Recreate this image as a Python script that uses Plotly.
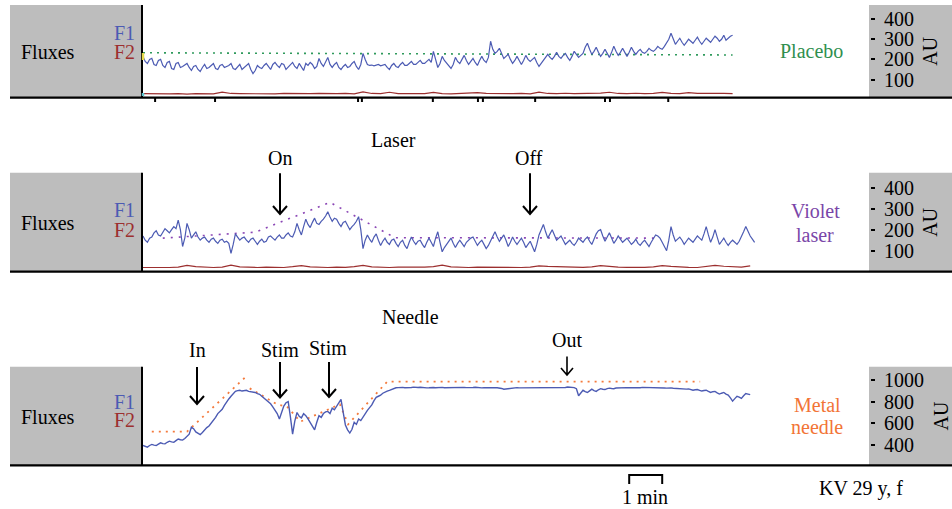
import plotly.graph_objects as go

# ---------------- data (AU values) ----------------
DT = 4       # seconds between F1 samples
DT2 = 16     # seconds between F2 samples

placebo_f1 = [215,190,180,200,205,175,170,195,200,170,160,185,190,155,150,180,185,160,
              165,175,180,160,145,165,170,150,140,160,175,155,160,170,180,155,150,170,
              175,160,165,170,180,155,150,165,175,150,160,170,180,150,130,145,170,160,155,170,
              180,165,150,175,185,170,160,180,175,150,160,175,185,165,155,180,160,145,
              180,170,185,175,155,165,205,180,165,190,210,175,160,175,185,160,150,165,175,160,
              165,180,190,165,150,175,230,200,175,170,172,168,170,175,168,172,175,160,150,170,
              180,165,160,175,185,170,170,180,190,175,175,185,195,180,180,190,200,185,240,200,
              160,180,215,195,180,165,155,175,210,190,180,200,220,195,175,190,205,185,170,195,
              215,195,185,210,290,250,230,240,255,230,205,215,225,200,180,195,215,195,175,195,
              220,200,190,200,210,185,165,180,195,210,225,210,200,215,235,215,205,220,230,210,
              195,215,240,225,210,220,230,260,280,250,225,240,260,235,215,230,250,230,210,235,
              265,240,220,235,255,235,215,235,260,240,225,240,250,235,230,240,255,245,240,250,
              265,255,250,265,285,300,330,300,275,290,305,285,270,285,300,290,280,295,310,290,
              275,290,305,295,285,300,315,305,290,300,320,295,305,315,320]
placebo_f2 = [30,29,31,29,30,28,30,31,29,38,31,30,29,31,30,29,31,30,28,30,
              31,29,30,31,29,39,31,30,37,30,29,31,30,36,30,29,31,30,35,31,
              30,32,30,31,29,38,31,30,32,30,31,29,33,37,31,30,32,30,31,36,
              31,30,35,31,32,30,31,30]
placebo_ref_t = [0, 1072]
placebo_ref = [233, 222]

laser_f1 = [170,150,140,160,165,185,195,175,170,190,205,195,185,200,215,205,246,200,120,160,
            230,200,160,175,190,165,150,160,165,150,140,155,160,145,135,150,155,140,145,135,
            87,130,180,165,150,160,165,150,140,155,160,145,130,145,155,140,145,165,170,160,
            150,165,175,160,160,175,185,170,165,190,230,200,175,215,250,225,210,235,255,230,
            225,240,250,265,285,260,240,255,250,230,215,235,240,220,200,215,225,240,262,200,
            110,150,175,155,140,165,180,150,125,145,160,140,130,150,155,135,120,140,150,125,
            110,140,165,145,130,145,150,130,115,140,160,140,120,160,190,140,95,115,130,145,
            160,135,115,135,150,135,120,140,150,160,165,145,125,140,150,130,110,125,145,170,
            190,165,145,160,175,150,120,140,165,145,130,145,160,140,115,130,145,120,95,130,
            175,200,225,190,160,180,200,175,150,160,170,150,130,140,150,135,125,140,160,150,
            140,155,165,145,130,155,180,195,200,170,145,165,185,160,135,150,170,155,140,150,
            160,145,130,140,155,135,125,140,150,135,120,140,160,175,170,160,140,120,100,150,
            215,175,145,155,165,150,130,145,160,150,140,155,170,160,150,180,215,175,140,165,
            200,165,130,145,160,140,125,140,150,140,130,145,165,190,215,190,170,155,140]
laser_f2 = [20,19,21,20,22,30,24,21,20,22,31,23,21,20,22,21,20,24,29,23,
            21,20,22,21,24,30,23,21,20,22,21,20,22,24,31,23,21,20,22,21,
            20,19,21,20,22,28,25,23,24,22,21,23,29,24,22,21,20,21,23,29,
            25,22,21,20,24,30,26,24,22,28]
laser_ref_t = [36, 204, 340, 458, 935]
laser_ref = [160, 188, 330, 162, 160]

needle_f1 = [395,385,380,395,405,398,395,408,420,412,410,425,435,428,425,440,455,448,445,460,
             480,500,565,550,520,505,495,515,540,560,575,600,620,655,690,710,730,765,800,825,
             850,875,895,902,905,898,900,905,895,892,890,885,875,868,850,832,810,795,780,752,
             720,690,640,710,760,790,800,660,500,620,700,665,650,690,670,640,610,575,540,610,
             670,655,690,705,710,690,740,725,760,790,820,700,585,540,510,545,610,590,640,625,
             660,690,720,745,770,810,840,850,860,878,890,898,905,915,925,928,930,933,932,929,
             928,930,931,934,929,931,933,930,930,927,928,932,931,929,930,933,932,928,929,931,
             931,929,928,931,930,933,932,930,929,927,931,933,930,926,927,930,932,929,928,931,
             930,928,926,922,915,918,922,926,928,931,930,927,927,930,931,928,929,933,932,930,
             930,932,933,930,931,934,934,931,930,932,933,930,931,935,934,931,930,920,855,880,
             905,892,885,900,915,902,895,910,920,915,912,920,925,922,920,926,928,925,925,929,
             930,928,927,931,931,928,929,932,932,929,928,931,930,927,926,929,929,926,925,928,
             927,924,922,918,920,914,912,916,918,910,905,910,912,905,898,903,906,895,885,892,
             895,882,870,878,885,870,860,835,805,828,850,842,830,855,875,870,865]
needle_ref_t = [16, 80, 189, None, 194, 244, 262, 286, 358, 373, 444, 1013]
needle_ref = [523, 523, 1040, None, 923, 775, 754, 615, 775, 591, 985, 985]

tick_p12 = [100, 200, 300, 400]
tick_p3 = [400, 600, 800, 1000]
event_marks = [22, 131, 391, 398, 527, 609, 618, 713, 840, 849, 955]
scale_bar = [884, 944]   # one minute

# ---------------- layout helpers ----------------
W, H = 952, 509
def px(x): return x / W
def py(y): return 1 - y / H

BLUE = '#4c5bb3'
RED = '#9c2f2f'
FONT = 'Liberation Serif'
GRAY = '#bdbdbd'

fig = go.Figure()

def times(vals, dt):
    return [i * dt for i in range(len(vals))]

fig.add_trace(go.Scatter(x=placebo_ref_t, y=placebo_ref, mode='lines', xaxis='x', yaxis='y',
                         line=dict(color='#2f9a5c', width=1.6, dash='2px,5px')))
fig.add_trace(go.Scatter(x=times(placebo_f2, DT2), y=placebo_f2, mode='lines', xaxis='x', yaxis='y',
                         line=dict(color=RED, width=1.2)))
fig.add_trace(go.Scatter(x=times(placebo_f1, DT), y=placebo_f1, mode='lines', xaxis='x', yaxis='y',
                         line=dict(color=BLUE, width=1.2)))

fig.add_trace(go.Scatter(x=laser_ref_t, y=laser_ref, mode='lines', xaxis='x2', yaxis='y2',
                         line=dict(color='#8a45b5', width=1.6, dash='2px,6px')))
fig.add_trace(go.Scatter(x=times(laser_f2, DT2), y=laser_f2, mode='lines', xaxis='x2', yaxis='y2',
                         line=dict(color=RED, width=1.2)))
fig.add_trace(go.Scatter(x=times(laser_f1, DT), y=laser_f1, mode='lines', xaxis='x2', yaxis='y2',
                         line=dict(color=BLUE, width=1.2)))

fig.add_trace(go.Scatter(x=needle_ref_t, y=needle_ref, mode='lines', xaxis='x3', yaxis='y3',
                         connectgaps=False,
                         line=dict(color='#f47a3c', width=1.8, dash='2px,5px')))
fig.add_trace(go.Scatter(x=times(needle_f1, DT), y=needle_f1, mode='lines', xaxis='x3', yaxis='y3',
                         line=dict(color=BLUE, width=1.4)))

XDOM = [143 / W, 869 / W]
XR = [0, 1320]
panels = [  # (top px, bottom px, range, ticks, title standoff)
    (5, 97.7, [10, 470], tick_p12, 10),
    (172.7, 271.7, [0, 471.4], tick_p12, 10),
    (366.7, 465.3, [212, 1123], tick_p3, 13),
]
layout = dict(
    width=W, height=H, margin=dict(l=0, r=0, t=0, b=0),
    template='none', paper_bgcolor='white', plot_bgcolor='rgba(0,0,0,0)',
    showlegend=False, font=dict(family=FONT, size=20, color='black'),
)
for i, (top, bot, rng, tv, so) in enumerate(panels):
    n = '' if i == 0 else str(i + 1)
    layout['xaxis' + n] = dict(domain=XDOM, range=XR, visible=False, anchor='y' + n,
                               automargin=False, fixedrange=True)
    layout['yaxis' + n] = dict(domain=[py(bot), py(top)], range=rng, side='right',
                               anchor='free', position=870 / W, automargin=False,
                               showgrid=False, zeroline=False, showline=False,
                               ticks='outside', ticklen=4, tickwidth=2, tickcolor='black',
                               tickvals=tv, ticktext=[str(v) for v in tv],
                               ticklabelstandoff=5,
                               tickfont=dict(family=FONT, size=20, color='black'),
                               title=dict(text='AU', standoff=so,
                                          font=dict(family=FONT, size=20, color='black')))
fig.update_layout(**layout)

shapes = []
def rect(x0, y0, x1, y1, color=GRAY):
    shapes.append(dict(type='rect', xref='paper', yref='paper', x0=px(x0), x1=px(x1),
                       y0=py(y1), y1=py(y0), fillcolor=color, line=dict(width=0), layer='below'))
def pline(x0, y0, x1, y1, w=2, color='black'):
    shapes.append(dict(type='line', xref='paper', yref='paper', x0=px(x0), x1=px(x1),
                       y0=py(y0), y1=py(y1), line=dict(color=color, width=w)))
def arrow(x, ytop, ybot, hw=7, hh=8, w=2):
    path = (f"M{px(x)},{py(ytop)} L{px(x)},{py(ybot)} "
            f"M{px(x - hw)},{py(ybot - hh)} L{px(x)},{py(ybot)} L{px(x + hw)},{py(ybot - hh)}")
    shapes.append(dict(type='path', xref='paper', yref='paper', path=path,
                       line=dict(color='black', width=w)))

for top, bot, _, _, _ in panels:
    rect(10, top, 142, bot)
    rect(869, top, 952, bot)
    pline(10, bot, 952, bot, w=2.2)
    pline(142, top, 142, bot, w=2)

for t in event_marks:
    shapes.append(dict(type='line', xref='x', yref='paper', x0=t, x1=t,
                       y0=py(98), y1=py(102), line=dict(color='black', width=2)))
pline(143, 53, 143, 60, w=2.5, color='#e6d84a')
pline(143, 93, 143, 96, w=2.5, color='#5fc6d0')

arrow(280, 173.3, 214)
arrow(530, 173.3, 214)
arrow(197, 367, 404)
arrow(280, 362, 397.5)
arrow(329, 362, 397)
arrow(567, 356.5, 375, hw=6, hh=7, w=1.6)

# 1 min scale bar
shapes.append(dict(type='path', xref='x3', yref='paper',
                   path=f"M{scale_bar[0]},{py(484)} L{scale_bar[0]},{py(475)} "
                        f"L{scale_bar[1]},{py(475)} L{scale_bar[1]},{py(484)}",
                   line=dict(color='black', width=2)))
fig.update_layout(shapes=shapes)

ann = []
def text(x, y, s, color='black', size=20):
    ann.append(dict(xref='paper', yref='paper', x=px(x), y=py(y), text=s, showarrow=False,
                    xanchor='center', yanchor='middle',
                    font=dict(family=FONT, size=size, color=color)))

for (fy, f1y, f2y) in [(52, 33, 52), (223, 210, 230), (417, 401.5, 420)]:
    text(48, fy, 'Fluxes')
    text(124, f1y, 'F1', color=BLUE)
    text(124, f2y, 'F2', color=RED)

text(811, 51.5, 'Placebo', color='#2f8f4e')
text(815, 211, 'Violet', color='#7a46a8')
text(815, 235, 'laser', color='#7a46a8')
text(817, 405, 'Metal', color='#f27436')
text(817, 427, 'needle', color='#f27436')

text(393, 140, 'Laser')
text(280, 158, 'On')
text(529, 158, 'Off')
text(410, 317, 'Needle')
text(197, 350, 'In')
text(280, 350, 'Stim')
text(328, 348, 'Stim')
text(567, 340, 'Out')
text(645, 497, '1 min')
text(861, 488, 'KV 29 y, f')
fig.update_layout(annotations=ann)

fig.write_html('out.html', config={'displayModeBar': False},
               post_script="document.body.style.margin='0';document.body.style.overflow='hidden';")
